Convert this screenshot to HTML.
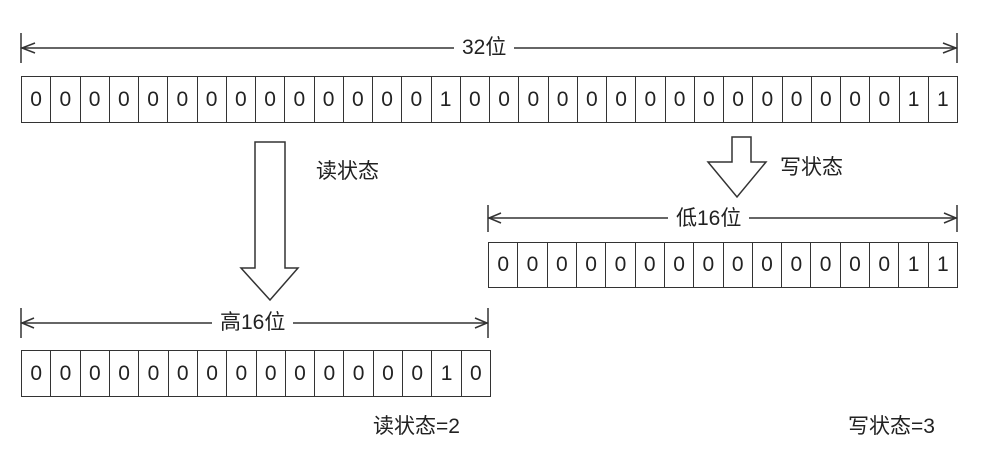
<!DOCTYPE html>
<html><head><meta charset="utf-8"><style>
html,body{margin:0;padding:0;background:#fff;}
body{width:997px;height:463px;position:relative;overflow:hidden;font-family:"Liberation Sans","Noto Sans CJK SC",sans-serif;color:#222;}
.row{position:absolute;display:flex;border:1.5px solid #333;box-sizing:border-box;}
.row span{flex:1;border-right:1.5px solid #333;display:flex;align-items:center;justify-content:center;font-size:21px;}
.row span:last-child{border-right:none;}
.t{position:absolute;font-size:21px;line-height:1;white-space:nowrap;background:#fff;}
svg{position:absolute;left:0;top:0;}
</style></head><body>
<svg width="997" height="463" viewBox="0 0 997 463" fill="none" stroke="#333" stroke-width="1.5">
<!-- top dimension -->
<line x1="21" y1="33" x2="21" y2="63"/><line x1="957" y1="33" x2="957" y2="63"/>
<line x1="21" y1="48" x2="957" y2="48"/>
<polyline points="35,43 22,48 35,53"/><polyline points="943,43 956,48 943,53"/>
<!-- low dimension -->
<line x1="488" y1="205" x2="488" y2="232"/><line x1="957" y1="205" x2="957" y2="232"/>
<line x1="488" y1="218" x2="957" y2="218"/>
<polyline points="501,213 489,218 501,223"/><polyline points="944,213 956,218 944,223"/>
<!-- high dimension -->
<line x1="21" y1="308" x2="21" y2="338"/><line x1="488" y1="308" x2="488" y2="338"/>
<line x1="21" y1="323" x2="488" y2="323"/>
<polyline points="34,318 22,323 34,328"/><polyline points="475,318 487,323 475,328"/>
<!-- read arrow -->
<polygon points="255,142 285,142 285,268 298,268 270,300 241,268 255,268" fill="#fff"/>
<!-- write arrow -->
<polygon points="732,137 751,137 751,162 766,162 737,197 708,162 732,162" fill="#fff"/>
</svg>
<div class="t" style="left:454px;top:37px;padding:0 8px;">32位</div>
<div class="t" style="left:668px;top:208px;padding:0 8px;">低16位</div>
<div class="t" style="left:212px;top:312px;padding:0 8px;">高16位</div>
<div class="t" style="left:316px;top:161px;">读状态</div>
<div class="t" style="left:780px;top:157px;">写状态</div>
<div class="t" style="left:373px;top:416px;">读状态=2</div>
<div class="t" style="left:848px;top:416px;">写状态=3</div>
<div class="row" style="left:21px;top:76px;width:937px;height:47px;">
<span>0</span><span>0</span><span>0</span><span>0</span><span>0</span><span>0</span><span>0</span><span>0</span><span>0</span><span>0</span><span>0</span><span>0</span><span>0</span><span>0</span><span>1</span><span>0</span><span>0</span><span>0</span><span>0</span><span>0</span><span>0</span><span>0</span><span>0</span><span>0</span><span>0</span><span>0</span><span>0</span><span>0</span><span>0</span><span>0</span><span>1</span><span>1</span>
</div>
<div class="row" style="left:488px;top:242px;width:470px;height:46px;">
<span>0</span><span>0</span><span>0</span><span>0</span><span>0</span><span>0</span><span>0</span><span>0</span><span>0</span><span>0</span><span>0</span><span>0</span><span>0</span><span>0</span><span>1</span><span>1</span>
</div>
<div class="row" style="left:21px;top:350px;width:470px;height:47px;">
<span>0</span><span>0</span><span>0</span><span>0</span><span>0</span><span>0</span><span>0</span><span>0</span><span>0</span><span>0</span><span>0</span><span>0</span><span>0</span><span>0</span><span>1</span><span>0</span>
</div>
</body></html>
